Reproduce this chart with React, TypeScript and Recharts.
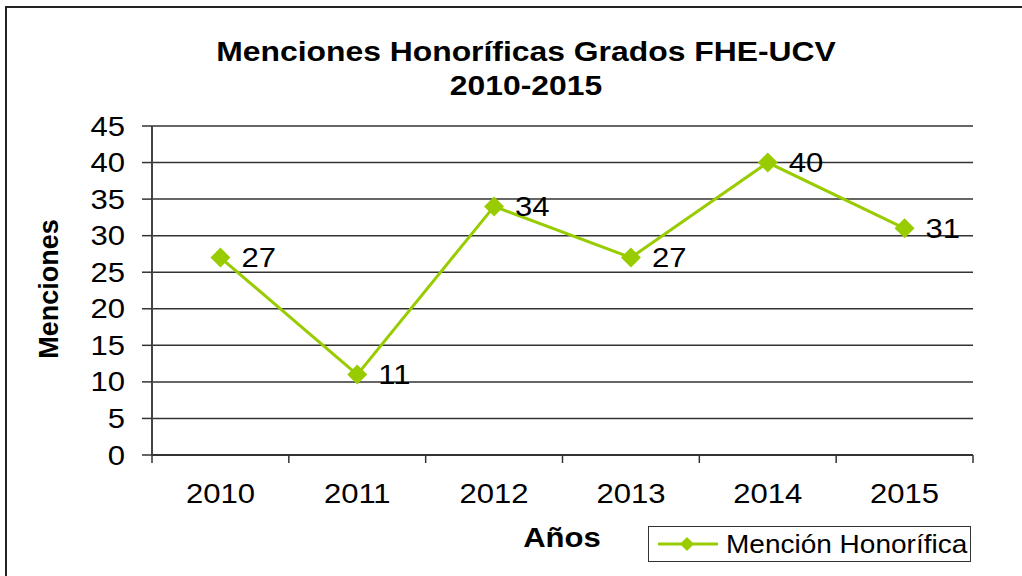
import React from 'react';
import { ComposedChart, Line, XAxis, YAxis, CartesianGrid, LabelList } from 'recharts';

const years = ['2010', '2011', '2012', '2013', '2014', '2015'];
const menciones = [27, 11, 34, 27, 40, 31];
const yTicks = [0, 5, 10, 15, 20, 25, 30, 35, 40, 45];

const data = years.map((year, i) => ({ year, value: menciones[i] }));

const W = 1022;
const H = 576;
const Y_AXIS_W = 152;
const margin = { top: 126, right: 49, bottom: 61, left: 0 };
const GREEN = '#99CC00';
const FONT = '"Liberation Sans", Arial, sans-serif';
const FS = 27;
// the original picture is a bit wider than tall, so text is stretched sideways
const SX = 1.15;

// width of one category band, used to put tick marks between the years
const band = (W - margin.left - margin.right - Y_AXIS_W) / years.length;

const WideText = ({ x, y, anchor, dy, children }: any) => (
  <text transform={`translate(${x},${y}) scale(${SX},1)`} textAnchor={anchor} dy={dy} fontSize={FS} fill="#000">
    {children}
  </text>
);

const YearTick = (props: any) => {
  const { x, y, payload, index } = props;
  const axisY = y - 29;
  return (
    <g>
      <line x1={x - band / 2} x2={x - band / 2} y1={axisY} y2={axisY + 8} stroke="#333" strokeWidth={1.5} />
      {index === years.length - 1 && (
        <line x1={x + band / 2} x2={x + band / 2} y1={axisY} y2={axisY + 8} stroke="#333" strokeWidth={1.5} />
      )}
      <WideText x={x} y={y} anchor="middle" dy="0.71em">{payload.value}</WideText>
    </g>
  );
};

const ValueTick = (props: any) => {
  const { x, y, payload } = props;
  return <WideText x={x} y={y} anchor="end" dy="0.355em">{payload.value}</WideText>;
};

const PointLabel = (props: any) => {
  const vb = props.viewBox || props;
  const x = (vb.x ?? props.x) + (vb.width || 0);
  const y = (vb.y ?? props.y) + (vb.height || 0) / 2;
  return <WideText x={x + 21} y={y} anchor="start" dy="0.355em">{props.value}</WideText>;
};

const Diamond = (props: any) => {
  const { cx, cy } = props;
  if (cx == null || cy == null) return null;
  const r = 10;
  return <path d={`M${cx},${cy - r}L${cx + r},${cy}L${cx},${cy + r}L${cx - r},${cy}Z`} fill={GREEN} />;
};

const App: React.FC = () => {
  return (
    <div style={{ position: 'absolute', left: 0, top: 0, width: W, height: H, overflow: 'hidden', background: '#fff', fontFamily: FONT }}>
      <div style={{
        position: 'absolute', left: 5, top: 6, width: 1040, height: 620,
        border: '2px solid #222', boxSizing: 'border-box'
      }} />

      <div style={{
        position: 'absolute', left: 0, top: 35, width: 1052, textAlign: 'center',
        fontSize: FS, fontWeight: 'bold', lineHeight: '34px', color: '#000'
      }}>
        <div style={{ transform: 'scaleX(1.18)' }}>Menciones Honoríficas Grados FHE-UCV</div>
        <div style={{ transform: 'scaleX(1.18)' }}>2010-2015</div>
      </div>

      <ComposedChart width={W} height={H} data={data} margin={margin} style={{ position: 'absolute', left: 0, top: 0 }}>
        <CartesianGrid horizontal vertical={false} stroke="#333" strokeWidth={1.5} />
        <XAxis
          dataKey="year"
          scale="band"
          height={60}
          tickSize={8}
          tickMargin={21}
          tickLine={false}
          axisLine={{ stroke: '#222', strokeWidth: 1.5 }}
          tick={<YearTick />}
          interval={0}
        />
        <XAxis xAxisId="top" dataKey="year" scale="band" orientation="top" height={0} tick={false} tickLine={false} axisLine={{ stroke: '#999', strokeWidth: 2 }} />
        <YAxis
          width={Y_AXIS_W}
          domain={[0, 45]}
          ticks={yTicks}
          interval={0}
          tickSize={10}
          tickMargin={17}
          tick={<ValueTick />}
          tickLine={{ stroke: '#333', strokeWidth: 1.5 }}
          axisLine={{ stroke: '#444', strokeWidth: 2 }}
        />
        <YAxis yAxisId="right" orientation="right" width={0} domain={[0, 45]} tick={false} tickLine={false} axisLine={{ stroke: '#999', strokeWidth: 2 }} />
        <Line
          type="linear"
          dataKey="value"
          stroke={GREEN}
          strokeWidth={3}
          dot={<Diamond />}
          activeDot={false}
          isAnimationActive={false}
        >
          <LabelList dataKey="value" content={<PointLabel />} />
        </Line>
      </ComposedChart>

      <div style={{
        position: 'absolute', left: 49, top: 289, transform: 'translate(-50%, -50%) rotate(-90deg)',
        fontSize: FS, fontWeight: 'bold', whiteSpace: 'nowrap', color: '#000'
      }}>
        Menciones
      </div>

      <div style={{
        position: 'absolute', left: 562, top: 538, transform: `translate(-50%, -50%) scaleX(${SX})`,
        fontSize: FS, fontWeight: 'bold', whiteSpace: 'nowrap', color: '#000'
      }}>
        Años
      </div>

      <div style={{
        position: 'absolute', left: 648, top: 526, width: 323, height: 36, boxSizing: 'border-box',
        border: '1.5px solid #333', display: 'flex', alignItems: 'center'
      }}>
        <svg width={75} height={34} style={{ marginLeft: 2 }}>
          <line x1={7} x2={67} y1={17} y2={17} stroke={GREEN} strokeWidth={3} />
          <path d="M36,10L43,17L36,24L29,17Z" fill={GREEN} />
        </svg>
        <span style={{
          fontSize: 25, color: '#000', whiteSpace: 'nowrap', display: 'inline-block',
          transform: 'scaleX(1.12)', transformOrigin: 'left center'
        }}>
          Mención Honorífica
        </span>
      </div>
    </div>
  );
};

export default App;
